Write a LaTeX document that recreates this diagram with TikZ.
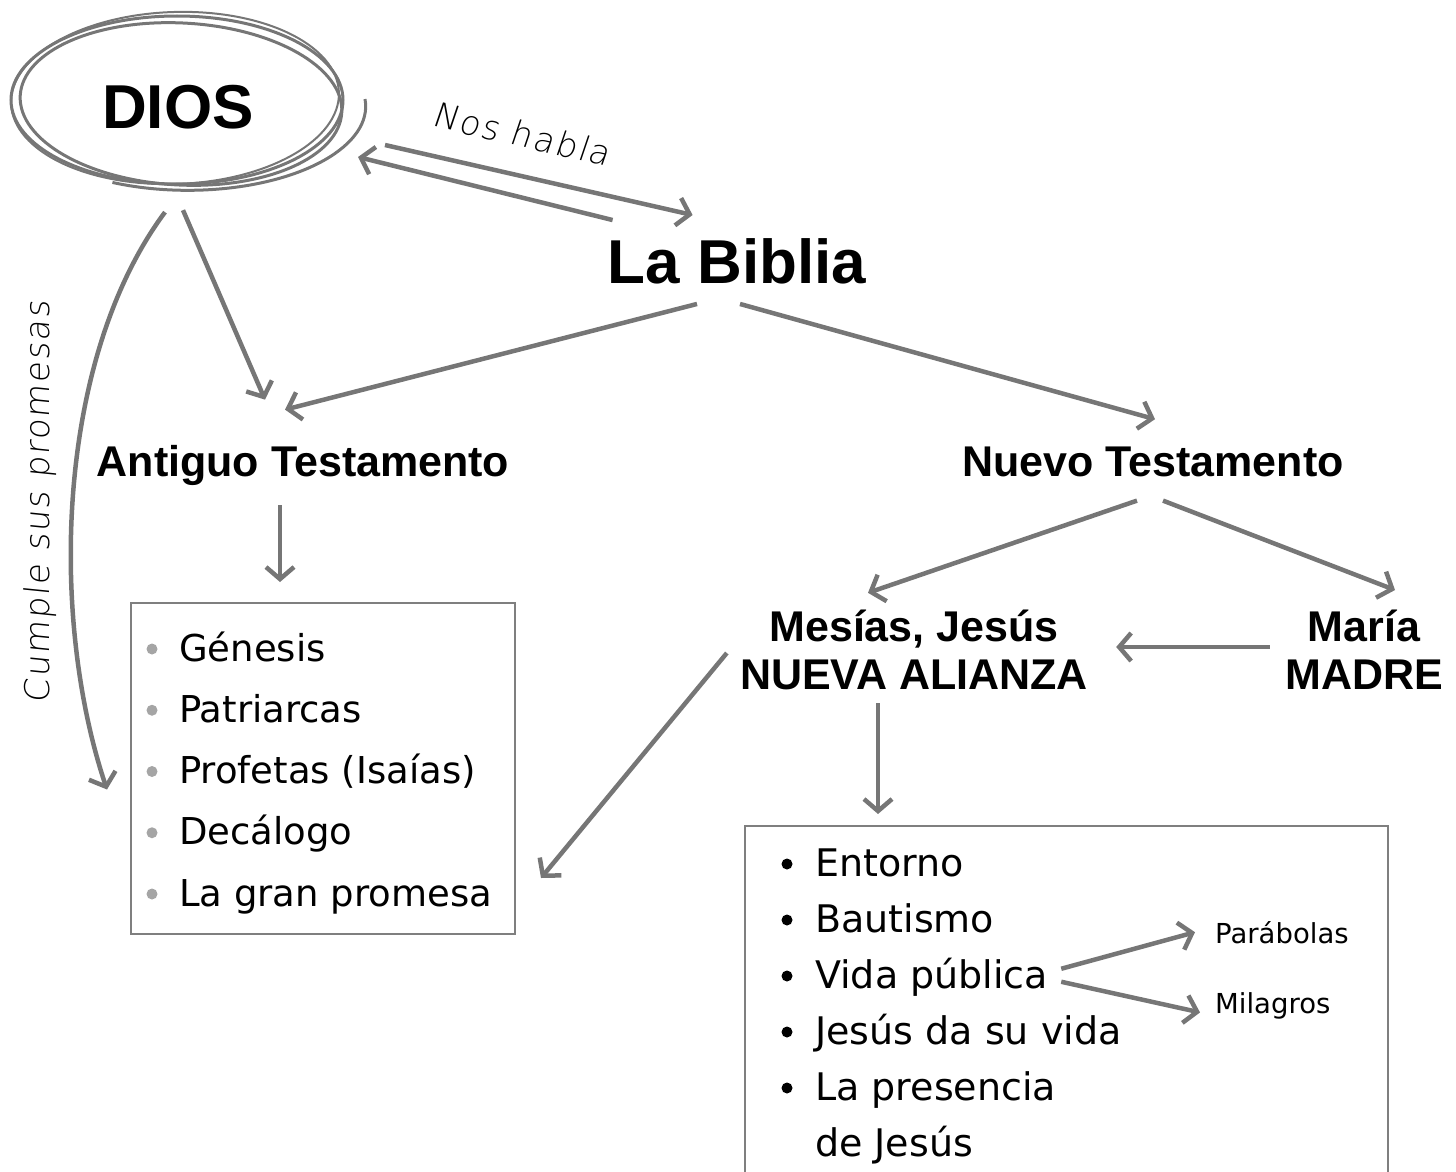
\documentclass[tikz,border=0pt]{standalone}
\usepackage{fontspec}
\setmainfont{Liberation Sans}
\newfontfamily\listfont{DejaVu Sans}
\newfontfamily\handfont{DejaVu Sans ExtraLight}[LetterSpace=5,FakeSlant=0.1]
\usetikzlibrary{arrows.meta,calc,positioning}
\definecolor{arrowgray}{HTML}{767676}
\definecolor{boxgray}{HTML}{7F7F7F}
\definecolor{dotgray}{HTML}{A5A5A5}
\tikzset{
  link/.style={draw=arrowgray, line width=4.5pt, -{Straight Barb[length=12pt,width=28pt]}},
  sketch/.style={draw=arrowgray, line width=3pt},
  bighead/.style={font=\fontsize{62}{70}\selectfont\bfseries, inner sep=0pt},
  head/.style={font=\fontsize{43}{48}\selectfont\bfseries, inner sep=0pt, align=center},
  listbox/.style={draw=boxgray, line width=2pt, inner sep=0pt},
  atitem/.style={font=\listfont\fontsize{37}{44}\selectfont, inner sep=0pt, anchor=base west},
  ntitem/.style={font=\listfont\fontsize{38}{44}\selectfont, inner sep=0pt, anchor=base west},
  subitem/.style={font=\listfont\fontsize{27.5}{32}\selectfont, inner sep=0pt, anchor=base west},
  hand/.style={font=\handfont\fontsize{34}{40}\selectfont, inner sep=0pt},
}
\begin{document}
\begin{tikzpicture}[x=1pt,y=-1pt]
\useasboundingbox (0,0) rectangle (1456,1172);

\draw[sketch] (177,100) ellipse [x radius=166pt, y radius=84pt];
\draw[sketch, rotate around={-3:(181,104)}] (181,104) ellipse [x radius=161pt, y radius=81pt];
\draw[sketch, line width=2pt, rotate around={2:(175,98)}] (175,98) ellipse [x radius=164pt, y radius=86pt];
\draw[sketch] (365,99) arc [start angle=5, end angle=-115, x radius=178pt, y radius=84pt];

\node[bighead] (dios) at (178,107) {DIOS};
\node[bighead] (biblia) at (737,261) {La Biblia};
\node[head, anchor=base] (antiguo) at (303,476) {Antiguo Testamento};
\node[head, anchor=base] (nuevo) at (1153,476) {Nuevo Testamento};
\node[head] (mesias) at (914,650) {Mesías, Jesús\\NUEVA ALIANZA};
\node[head] (maria) at (1364,650) {María\\MADRE};

\node[listbox, minimum width=384pt, minimum height=331pt] (atbox) at (323,768.5) {};
\node[listbox, minimum width=643pt, minimum height=380pt] (ntbox) at (1066.5,1016) {};

\foreach \txt [count=\i from 0] in {Génesis, Patriarcas, Profetas (Isaías), Decálogo, La gran promesa} {
  \fill[dotgray] (152,649+61.25*\i) circle (5.5pt);
  \node[atitem] (at\i) at (179,661+61.25*\i) {\txt};
}
\foreach \txt [count=\i from 0] in {Entorno, Bautismo, Vida pública, Jesús da su vida, La presencia} {
  \fill (787,864+56*\i) circle (5.5pt);
  \node[ntitem] (nt\i) at (815,876+56*\i) {\txt};
}
\node[ntitem] (nt5) at (815,1156) {de Jesús};
\node[subitem] (parab) at (1215,943) {Parábolas};
\node[subitem] (milag) at (1215,1013) {Milagros};

\node[hand, rotate=-13] (habla) at (522,134) {Nos habla};
\node[hand, rotate=90] (cumple) at (40,502) {Cumple sus promesas};

\draw[link] ($(dios)+(207,38)$) -- ($(biblia.north west)+(85,-23)$);
\draw[link] ($(biblia.north west)+(5,-18)$) -- ($(dios)+(180,50)$);
\draw[link] ($(dios.south)+(5,81)$) -- ($(antiguo.north)+(-38,-45)$);
\draw[link] ($(dios.south)+(-13,83)$) .. controls (55,360) and (50,620) .. ($(atbox.west)+(-23,21)$);
\draw[link] ($(biblia.south)+(-40,20)$) -- ($(antiguo.north)+(-18,-35)$);
\draw[link] ($(biblia.south)+(3,20)$) -- ($(nuevo.north)+(2,-27)$);
\draw[link] ($(antiguo.south)+(-23,20)$) -- ($(atbox.north)+(-43,-20)$);
\draw[link] ($(nuevo.south)+(-16,24)$) -- ($(mesias.north)+(-46,-17)$);
\draw[link] ($(nuevo.south)+(10,24)$) -- ($(maria.north)+(31,-20)$);
\draw[link] ($(maria.west)+(-15,-3)$) -- ($(mesias.east)+(28,-3)$);
\draw[link] ($(mesias.west)+(-13,3)$) -- ($(atbox.south east)+(25,-57)$);
\draw[link] ($(mesias.south)+(-36,13)$) -- ($(ntbox.north)+(-188.5,-11)$);
\draw[link] ($(nt2.east)+(13,-8)$) -- ($(parab.west)+(-20,0)$);
\draw[link] ($(nt2.east)+(13,5)$) -- ($(milag.west)+(-15,7)$);
\end{tikzpicture}
\end{document}
